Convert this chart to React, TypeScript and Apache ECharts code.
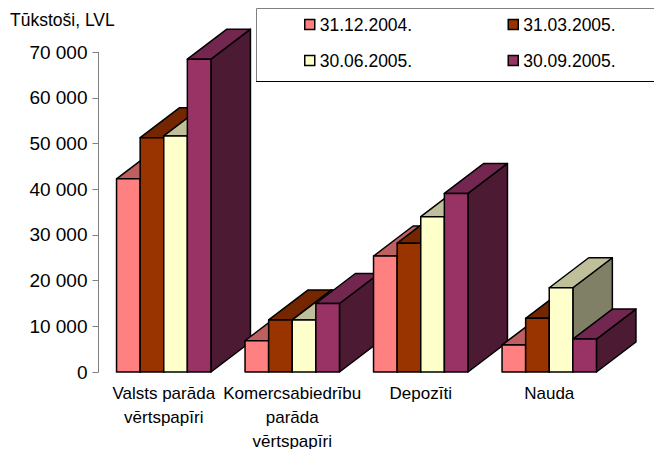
import React, { useEffect, useRef } from "react";
import * as echarts from "echarts";

const categories = ["Valsts parāda\nvērtspapīri", "Komercsabiedrību\nparāda\nvērtspapīri", "Depozīti", "Nauda"];
const seriesNames = ["31.12.2004.", "31.03.2005.", "30.06.2005.", "30.09.2005."];
const s2004q4 = [42300, 6850, 25400, 5900];
const s2005q1 = [51300, 11400, 28200, 11750];
const s2005q2 = [51700, 11400, 34000, 18450];
const s2005q3 = [68500, 15000, 39100, 7200];
const seriesValues = [s2004q4, s2005q1, s2005q2, s2005q3];
const faceColors = ["#FF8080", "#993300", "#FFFFCC", "#993366"];
const topColors = ["#BF6060", "#732600", "#BFBF99", "#732650"];
const sideColors = ["#804040", "#4D1A00", "#808066", "#4D1A33"];

const DX = 39.5;
const DY = 30;
const BAR_FRACTION = 0.1837;
const FONT = "Liberation Sans, Arial, sans-serif";

const barData: number[][] = [];
categories.forEach((_, c) => {
  seriesValues.forEach((vals, s) => barData.push([c, vals[c], s]));
});

const legendPos = [
  { left: 304, top: 15.5 },
  { left: 507.5, top: 15.5 },
  { left: 304, top: 51.5 },
  { left: 507.5, top: 51.5 },
];

export default function App() {
  const ref = useRef<HTMLDivElement>(null);
  useEffect(() => {
    const chart = echarts.init(ref.current!, null, { renderer: "svg" });
    const stroke = { stroke: "#000", lineWidth: 1.5, lineJoin: "round" };
    chart.setOption({
      animation: false,
      backgroundColor: "#fff",
      grid: { left: 99.5, width: 514, top: 52.3, height: 319.7, outerBoundsMode: "none" },
      legend: seriesNames.map((name, i) => ({
        left: legendPos[i].left,
        top: legendPos[i].top,
        orient: "horizontal",
        selectedMode: false,
        itemWidth: 10,
        itemHeight: 10,
        padding: 0,
        textStyle: { fontFamily: FONT, fontSize: 17.5, color: "#000" },
        data: [
          {
            name,
            icon: "rect",
            itemStyle: { color: faceColors[i], borderColor: "#000", borderWidth: 1.5 },
          },
        ],
      })),
      xAxis: {
        type: "category",
        data: categories,
        axisLine: { show: false },
        axisTick: { show: false },
        axisLabel: {
          interval: 0,
          fontFamily: FONT,
          fontSize: 17,
          lineHeight: 24,
          color: "#000",
          margin: 9,
        },
      },
      yAxis: {
        type: "value",
        min: 0,
        max: 70000,
        interval: 10000,
        offset: 1,
        splitLine: { show: false },
        axisLine: { show: true, lineStyle: { color: "#808080", width: 1 } },
        axisTick: { show: true, length: 6, lineStyle: { color: "#808080", width: 1 } },
        axisLabel: {
          fontFamily: FONT,
          fontSize: 19,
          color: "#000",
          margin: 11,
          formatter: (v: number) => (v === 0 ? "0" : String(v).replace(/(\d)(\d{3})$/, "$1 $2")),
        },
      },
      series: [
        {
          type: "custom",
          name: "bars",
          coordinateSystem: "cartesian2d",
          clip: false,
          encode: { x: 0, y: 1 },
          data: barData,
          renderItem: (_: any, api: any) => {
            const c = api.value(0);
            const v = api.value(1);
            const s = api.value(2);
            const w = api.size([1, 0])[0] * BAR_FRACTION;
            const [cx, yTop] = api.coord([c, v]);
            const [, y0] = api.coord([c, 0]);
            const x1 = cx + (s - 2) * w;
            const x2 = x1 + w;
            return {
              type: "group",
              children: [
                {
                  type: "polygon",
                  shape: { points: [[x2, y0], [x2 + DX, y0 - DY], [x2 + DX, yTop - DY], [x2, yTop]] },
                  style: { fill: sideColors[s], ...stroke },
                },
                {
                  type: "polygon",
                  shape: { points: [[x1, yTop], [x1 + DX, yTop - DY], [x2 + DX, yTop - DY], [x2, yTop]] },
                  style: { fill: topColors[s], ...stroke },
                },
                {
                  type: "rect",
                  shape: { x: x1, y: yTop, width: w, height: y0 - yTop },
                  style: { fill: faceColors[s], ...stroke },
                },
              ],
            };
          },
        },
        ...seriesNames.map((name, i) => ({
          type: "bar",
          name,
          data: [],
          itemStyle: { color: faceColors[i] },
        })),
      ],
      graphic: [
        {
          type: "text",
          left: 10,
          top: 11,
          style: { text: "Tūkstoši, LVL", fontFamily: FONT, fontSize: 17.5, fill: "#000" },
        },
        { type: "line", z: 5, shape: { x1: 256.5, y1: 8.5, x2: 654, y2: 8.5 }, style: { stroke: "#808080", lineWidth: 1 } },
        { type: "line", z: 5, shape: { x1: 256.5, y1: 8.5, x2: 256.5, y2: 81.5 }, style: { stroke: "#808080", lineWidth: 1 } },
        { type: "line", z: 5, shape: { x1: 256, y1: 81.5, x2: 654, y2: 81.5 }, style: { stroke: "#000", lineWidth: 1 } },
      ],
    });
    return () => chart.dispose();
  }, []);
  return <div ref={ref} style={{ position: "absolute", left: 0, top: 0, width: 654, height: 449 }} />;
}
